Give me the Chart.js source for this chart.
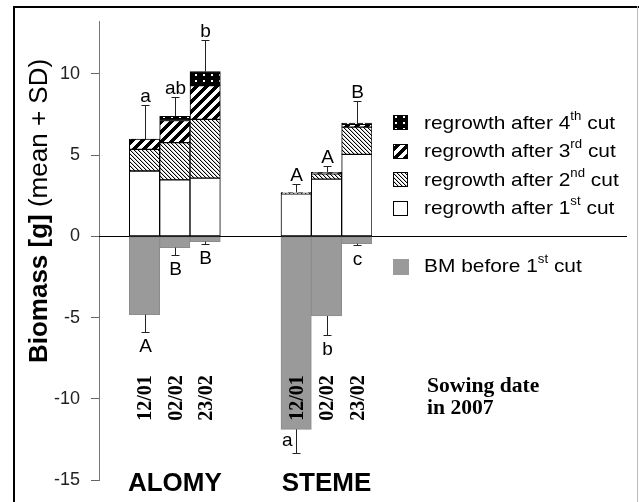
<!DOCTYPE html>
<html>
<head>
<meta charset="utf-8">
<script src="https://cdn.jsdelivr.net/npm/chart.js@4.4.0/dist/chart.umd.min.js"></script>
<style>
  html, body { margin: 0; padding: 0; background: #fff; }
  #wrap { width: 639px; height: 502px; }
</style>
</head>
<body>
<div id="wrap"><canvas id="chart" width="639" height="502"></canvas></div>
<script>
// ---- data ----
const sowingDates = ["12/01", "02/02", "23/02"];
const species     = ["ALOMY", "STEME"];
const tickValues  = [-15, -10, -5, 0, 5, 10];

// order: ALOMY 12/01, 02/02, 23/02, STEME 12/01, 02/02, 23/02
const cut1 = [4.02, 3.48, 3.58, 2.62, 3.52, 5.04];
const cut2 = [1.33, 2.29, 3.62, 0.05, 0.32, 1.68];
const cut3 = [0.63, 1.36, 2.07, 0.03, 0.10, 0.18];
const cut4 = [null, 0.25, 0.87, null, null, 0.07];
const sdRegrowth = [2.12, 1.17, 1.93, 0.52, 0.41, 1.38];
const bmBefore   = [-4.82, -0.69, -0.32, -11.87, -4.90, -0.45];
const sdBM       = [1.09, 0.47, 0.15, 1.48, 1.18, 0.08];
const lettersTop    = ["a", "ab", "b", "A", "A", "B"];
const lettersBottom = ["A", "B", "B", "a", "b", "c"];

// ---- layout helpers ----
const labels = ["", ...sowingDates, "", "", ...sowingDates];
const slots  = [1, 2, 3, 6, 7, 8];
function toSlots(arr) {
  const out = labels.map(() => null);
  slots.forEach((s, i) => out[s] = arr[i]);
  return out;
}

const SANS  = "Arial, 'Liberation Sans', sans-serif";
const SERIF = "'Times New Roman', 'Liberation Serif', serif";

const canvas = document.getElementById("chart");
const ctx0 = canvas.getContext("2d");

function makePattern(w, h, paint) {
  const c = document.createElement("canvas");
  c.width = w; c.height = h;
  const g = c.getContext("2d");
  paint(g, w, h);
  return ctx0.createPattern(c, "repeat");
}

const fineHatch = makePattern(4, 4, (g, w, h) => {
  g.fillStyle = "#fff"; g.fillRect(0, 0, w, h);
  for (let i = 0; i < 4; i++) {
    g.fillStyle = "#000"; g.fillRect(i, i, 1, 1);
    g.fillStyle = "#c8c8c8"; g.fillRect((i + 1) % 4, i, 1, 1);
  }
});
const thickStripes = makePattern(10, 10, (g, w, h) => {
  g.fillStyle = "#fff"; g.fillRect(0, 0, w, h);
  g.fillStyle = "#000";
  for (let x = 0; x < w; x++)
    for (let y = 0; y < h; y++)
      if ((x + y) % 10 < 5) g.fillRect(x, y, 1, 1);
});
const dots = makePattern(8, 6, (g, w, h) => {
  g.fillStyle = "#000"; g.fillRect(0, 0, w, h);
  g.fillStyle = "#fff"; g.fillRect(3, 2, 2, 2);
});
const GRAY = "#9a9a9a";

// ==============================
// DECORATIONS
// ==============================
// text with a superscript part, slightly widened like the scanned figure
function sup(ctx, x, y, base, s, tail, size, k) {
  ctx.save();
  ctx.translate(x, y);
  ctx.scale(k, 1);
  ctx.textAlign = "left";
  ctx.textBaseline = "middle";
  let px = 0;
  ctx.font = size + "px " + SANS;
  ctx.fillText(base, px, 0);
  px += ctx.measureText(base).width;
  ctx.font = Math.round(size * 0.62) + "px " + SANS;
  ctx.fillText(s, px, -size * 0.38);
  px += ctx.measureText(s).width;
  ctx.font = size + "px " + SANS;
  ctx.fillText(tail, px, 0);
  ctx.restore();
}

const decor = {
  id: "decor",
  beforeDatasetsDraw(chart) {
    const { ctx, scales: { y }, chartArea } = chart;
    const y0 = Math.round(y.getPixelForValue(0)) + 0.5;
    ctx.save();
    ctx.strokeStyle = "#000";
    ctx.lineWidth = 1;
    ctx.beginPath();
    ctx.moveTo(chartArea.left, y0);
    ctx.lineTo(627, y0);
    ctx.stroke();
    ctx.restore();
  },
  afterDatasetsDraw(chart) {
    const { ctx, scales: { x, y }, chartArea } = chart;
    ctx.save();
    ctx.strokeStyle = "#222";
    ctx.fillStyle = "#000";
    ctx.lineWidth = 1;
    ctx.font = "19px " + SANS;
    ctx.textAlign = "center";

    slots.forEach((s, i) => {
      const cx = Math.round(x.getPixelForValue(s)) + 0.5;
      // regrowth error bar
      const total = cut1[i] + cut2[i] + cut3[i] + (cut4[i] || 0);
      const t1 = y.getPixelForValue(total);
      const t2 = Math.round(y.getPixelForValue(total + sdRegrowth[i])) + 0.5;
      ctx.beginPath();
      ctx.moveTo(cx, t1); ctx.lineTo(cx, t2);
      ctx.moveTo(cx - 4, t2); ctx.lineTo(cx + 4, t2);
      ctx.stroke();
      ctx.textBaseline = "alphabetic";
      ctx.textAlign = "center";
      ctx.fillText(lettersTop[i], cx, t2 - 4);

      // BM error bar
      const b1 = y.getPixelForValue(bmBefore[i]);
      const b2 = Math.round(y.getPixelForValue(bmBefore[i] - sdBM[i])) + 0.5;
      ctx.beginPath();
      ctx.moveTo(cx, b1); ctx.lineTo(cx, b2);
      ctx.moveTo(cx - 4, b2); ctx.lineTo(cx + 4, b2);
      ctx.stroke();
      if (b2 + 30 > chartArea.bottom) {
        ctx.textAlign = "right";
        ctx.fillText(lettersBottom[i], cx - 4, b2 - 8);
      } else {
        ctx.textAlign = "center";
        ctx.textBaseline = "top";
        ctx.fillText(lettersBottom[i], cx, b2 + 5);
      }
    });

    // sowing date labels (vertical)
    ctx.font = "bold 20px " + SERIF;
    ctx.textAlign = "center";
    ctx.textBaseline = "middle";
    slots.forEach(s => {
      ctx.save();
      ctx.translate(x.getPixelForValue(s) + 1, 398);
      ctx.rotate(-Math.PI / 2);
      ctx.scale(1, 1.1);
      ctx.fillText(labels[s], 0, 0);
      ctx.restore();
    });
    ctx.restore();
  },
  afterDraw(chart) {
    const { ctx, scales: { x } } = chart;
    ctx.save();
    // frame
    ctx.fillStyle = "#000";
    ctx.fillRect(13, 6, 626, 2);
    ctx.fillRect(13, 6, 2, 500);
    ctx.fillStyle = "#bbb";
    ctx.fillRect(637, 6, 1, 500);

    // y title
    ctx.save();
    ctx.translate(40, 211);
    ctx.rotate(-Math.PI / 2);
    ctx.fillStyle = "#000";
    ctx.textBaseline = "middle";
    const p1 = "Biomass [g]", p2 = " (mean + SD)";
    ctx.font = "bold 26px " + SANS;
    const w1 = ctx.measureText(p1).width;
    ctx.font = "26px " + SANS;
    const w2 = ctx.measureText(p2).width;
    let sx = -(w1 + w2) / 2;
    ctx.font = "bold 26px " + SANS;
    ctx.textAlign = "left";
    ctx.fillText(p1, sx, 0);
    ctx.font = "26px " + SANS;
    ctx.fillText(p2, sx + w1, 0);
    ctx.restore();

    // species labels
    ctx.fillStyle = "#000";
    ctx.font = "bold 26px " + SANS;
    ctx.textAlign = "center";
    ctx.textBaseline = "middle";
    species.forEach((sp, k) => {
      ctx.fillText(sp, x.getPixelForValue(slots[k * 3 + 1]), 484);
    });

    // sowing date note
    ctx.save();
    ctx.translate(427, 392);
    ctx.scale(1.08, 1);
    ctx.font = "bold 20px " + SERIF;
    ctx.textAlign = "left";
    ctx.textBaseline = "alphabetic";
    ctx.fillText("Sowing date", 0, 0);
    ctx.fillText("in 2007", 0, 22);
    ctx.restore();

    // legend
    const rows = [
      { fill: dots, n: "4", s: "th", y: 122.5 },
      { fill: thickStripes, n: "3", s: "rd", y: 151 },
      { fill: fineHatch, n: "2", s: "nd", y: 179.5 },
      { fill: "#fff", n: "1", s: "st", y: 208 }
    ];
    rows.forEach(r => {
      const top = Math.round(r.y - 7.5);
      ctx.fillStyle = r.fill;
      ctx.fillRect(393, top, 15, 15);
      ctx.strokeStyle = "#000";
      ctx.lineWidth = 1;
      ctx.strokeRect(393.5, top + 0.5, 14, 14);
      ctx.fillStyle = "#000";
      sup(ctx, 424, r.y + 1, "regrowth after " + r.n, r.s, " cut", 19, 1.1);
    });
    ctx.fillStyle = GRAY;
    ctx.fillRect(393, 259, 16, 16);
    ctx.fillStyle = "#000";
    sup(ctx, 424, 267, "BM before 1", "st", " cut", 19, 1.1);
    ctx.restore();
  }
};

// ==============================
// CHART
// ==============================
const regrowthStyle = { borderColor: "#000", borderWidth: 1, borderSkipped: false };

new Chart(canvas, {
  type: "bar",
  data: {
    labels,
    datasets: [
      { label: "regrowth after 1st cut", data: toSlots(cut1), backgroundColor: "#fff", ...regrowthStyle },
      { label: "regrowth after 2nd cut", data: toSlots(cut2), backgroundColor: fineHatch, ...regrowthStyle },
      { label: "regrowth after 3rd cut", data: toSlots(cut3), backgroundColor: thickStripes, ...regrowthStyle },
      { label: "regrowth after 4th cut", data: toSlots(cut4), backgroundColor: dots, ...regrowthStyle },
      { label: "BM before 1st cut", data: toSlots(bmBefore), backgroundColor: GRAY, borderColor: "#8c8c8c", borderWidth: 1, borderSkipped: false }
    ]
  },
  options: {
    responsive: false,
    animation: false,
    devicePixelRatio: 1,
    barPercentage: 1,
    categoryPercentage: 1,
    layout: { padding: { left: 0, right: 267, top: 21, bottom: 19 } },
    plugins: { legend: { display: false }, tooltip: { enabled: false } },
    scales: {
      x: { stacked: true, display: false },
      y: {
        stacked: true,
        min: -15,
        max: 13.2,
        afterBuildTicks: scale => { scale.ticks = tickValues.map(v => ({ value: v })); },
        afterFit: scale => { scale.width = 99; },
        grid: { drawOnChartArea: false, drawTicks: true, tickLength: 8, color: "#666" },
        border: { display: true, color: "#777" },
        ticks: { padding: 11, color: "#222", font: { family: SANS, size: 18 } }
      }
    }
  },
  plugins: [decor]
});
</script>
</body>
</html>
